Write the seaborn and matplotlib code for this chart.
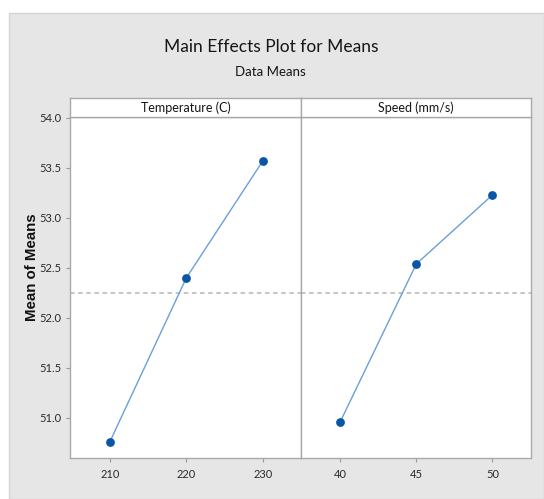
import matplotlib
matplotlib.use("Agg")
import matplotlib.pyplot as plt
import seaborn as sns
import pandas as pd
from matplotlib.patches import Rectangle

# ---- data ----
temp_levels = [210, 220, 230]
temp_means = [50.76, 52.40, 53.57]
speed_levels = [40, 45, 50]
speed_means = [50.96, 52.54, 53.23]
grand_mean = 52.25
y_ticks = [51.0, 51.5, 52.0, 52.5, 53.0, 53.5, 54.0]
panel_titles = ["Temperature (C)", "Speed (mm/s)"]

sns.set_theme(style="white")
plt.rcParams['font.family'] = ['Lato', 'DejaVu Sans']

W, H = 544, 499
fig = plt.figure(figsize=(W / 100, H / 100), dpi=100, facecolor='white')
fig.patches.append(Rectangle((9 / W, 0), 1 - 9 / W, 1 - 13 / H, transform=fig.transFigure,
                             facecolor='#e6e6e6', edgecolor='#d4d4d4', lw=1, zorder=-5))

def fx(px):
    return px / W

def fy(py):
    return 1 - py / H

ax_top, ax_bot = 117, 458
x_edges = [70, 301, 530.5]
panels = [(temp_levels, temp_means, (204.8, 235.0)),
          (speed_levels, speed_means, (37.43, 52.5))]

line_col = '#6a9fd8'
mark_col = '#0a56a6'
spine_col = '#a9a9a9'
text_col = '#151515'

axes = []
for i, (lv, mv, xl) in enumerate(panels):
    ax = fig.add_axes([fx(x_edges[i]), fy(ax_bot), fx(x_edges[i + 1] - x_edges[i]),
                       (ax_bot - ax_top) / H])
    df = pd.DataFrame({'level': lv, 'mean': mv})
    sns.lineplot(data=df, x='level', y='mean', ax=ax, color=line_col, lw=1.0, zorder=2)
    sns.scatterplot(data=df, x='level', y='mean', ax=ax, color=mark_col, s=40,
                    edgecolor=mark_col, linewidth=0, zorder=3)
    ax.axhline(grand_mean, color='#c0c0c0', lw=1.3, ls=(0, (2.5, 2.0)), zorder=1)
    ax.set_xlim(*xl)
    ax.set_ylim(50.6, 54.01)
    ax.set_xticks(lv)
    ax.set_xticklabels([str(v) for v in lv])
    ax.set_xlabel('')
    ax.set_ylabel('')
    ax.set_facecolor('white')
    for s in ax.spines.values():
        s.set_color(spine_col)
        s.set_linewidth(1.0)
    ax.tick_params(axis='x', length=3, width=0.8, color='#999999', labelsize=8,
                   labelcolor='#2a2a2a', pad=5, bottom=True)
    if i == 0:
        ax.set_yticks(y_ticks)
        ax.set_yticklabels([f"{v:.1f}" for v in y_ticks])
        ax.tick_params(axis='y', length=3, width=0.8, color='#999999', labelsize=8,
                       labelcolor='#2a2a2a', pad=3, left=True)
    else:
        ax.set_yticks(y_ticks)
        ax.tick_params(axis='y', left=False, labelleft=False)
    axes.append(ax)

    # strip header
    hax = fig.add_axes([fx(x_edges[i]), fy(ax_top), fx(x_edges[i + 1] - x_edges[i]), 19 / H])
    hax.set_facecolor('white')
    hax.set_xticks([])
    hax.set_yticks([])
    for s in hax.spines.values():
        s.set_color(spine_col)
        s.set_linewidth(1.0)
    hax.text(0.5, 0.5, panel_titles[i], ha='center', va='center', fontsize=9,
             color=text_col, transform=hax.transAxes)

fig.text(fx(271.5), fy(47), "Main Effects Plot for Means", ha='center', va='center',
         fontsize=12.5, color=text_col)
fig.text(fx(270.5), fy(72), "Data Means", ha='center', va='center', fontsize=9.5,
         color=text_col)
fig.text(fx(32), fy(267), "Mean of Means", ha='center', va='center', rotation=90,
         fontsize=10.8, fontweight='bold', color='#111111',
         family=['Liberation Sans', 'DejaVu Sans'])

fig.savefig('out.png', dpi=100, facecolor='white')
